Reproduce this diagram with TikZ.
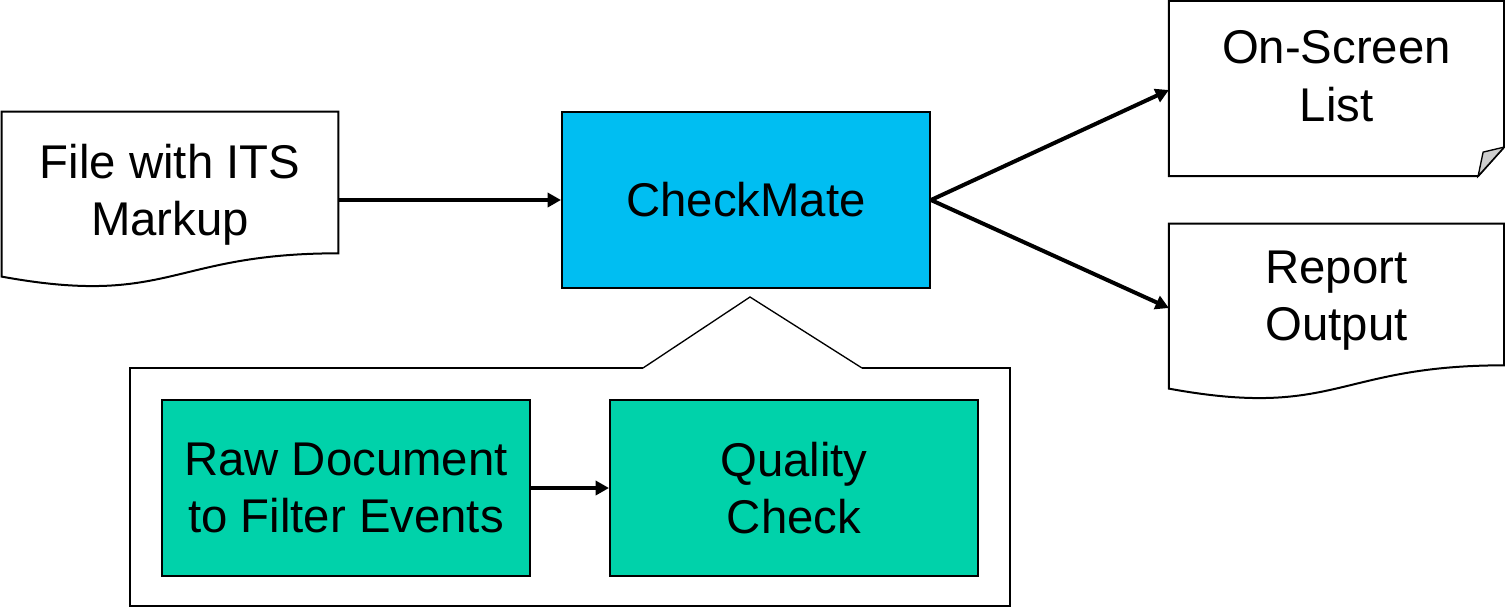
\documentclass[tikz,border=0pt]{standalone}
\usepackage{fontspec}
\setmainfont{Liberation Sans}
\usetikzlibrary{arrows.meta, calc}
\definecolor{checkblue}{RGB}{0,190,242}
\definecolor{stepgreen}{RGB}{0,210,170}
\definecolor{foldgray}{RGB}{205,205,205}
\tikzset{
  txt/.style={font=\fontsize{35.5}{43}\selectfont, align=center, inner sep=0pt},
  mainbox/.style={txt, draw, line width=1.5pt, fill=checkblue, minimum width=276pt, minimum height=132pt},
  stepbox/.style={txt, draw, line width=1.5pt, fill=stepgreen, minimum width=276pt, minimum height=132pt},
  docbox/.style={txt, minimum width=251pt, minimum height=132pt},
  flow/.style={line width=3pt, -{Triangle[length=10pt,width=10.5pt]}},
}
% document outline with wavy bottom
\newcommand{\docoutline}[1]{%
  \draw[line width=1.5pt] (#1.north west) -- (#1.north east)
    -- ($(#1.north east)!0.802!(#1.south east)$)
    .. controls ($(#1.north)!0.802!(#1.south)$) and ($(#1.north)!1.108!(#1.south)$)
    .. ($(#1.north west)!0.934!(#1.south west)$) -- cycle;}
\begin{document}
\begin{tikzpicture}[x=0.75pt,y=0.75pt,yscale=-1,xscale=1]
\useasboundingbox (0,0) rectangle (1505,608);

% Text Node
\node[docbox, minimum width=252pt, text depth=15pt] (file) at (170,200) {File with ITS\\Markup};
\docoutline{file}
% Text Node
\node[mainbox] (check) at (746,200) {CheckMate};
% Text Node
\node[docbox, minimum height=131pt, text depth=19pt] (list) at (1336.5,88.5) {On-Screen\\List};
\draw[line width=1.5pt] (list.north west) -- (list.north east) -- ($(list.south east)+(0,-29)$)
  -- ($(list.south east)+(-26,0)$) -- (list.south west) -- cycle;
\draw[line width=1pt, fill=foldgray] ($(list.south east)+(-26,0)$) -- ($(list.south east)+(-21,-24)$)
  -- ($(list.south east)+(0,-29)$) -- cycle;
% Text Node
\node[docbox, text depth=24pt] (report) at (1336.5,312) {Report\\Output};
\docoutline{report}

%Callout
\draw[line width=1.5pt] (643,368) -- (130,368) -- (130,606) -- (1010,606) -- (1010,368) -- (862,368);
\draw[line width=1pt] (643,368) -- (750,297) -- (862,368);
% Text Node
\node[stepbox] (raw) at (346,488) {Raw Document\\to Filter Events};
% Text Node
\node[stepbox] (qual) at (794,488) {Quality\\Check};

%Straight Lines
\draw[flow] (file.east) -- (check.west);
\draw[flow] (check.east) -- ($(list.west)+(0,1.5)$);
\draw[flow] (check.east) -- ($(report.west)+(0,-4)$);
\draw[flow] (raw.east) -- (qual.west);

\end{tikzpicture}
\end{document}
